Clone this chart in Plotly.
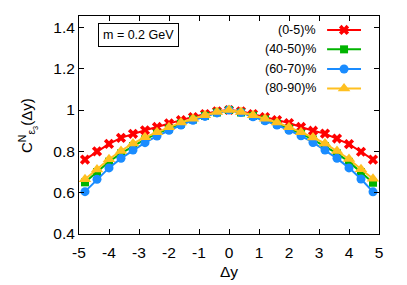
import plotly.graph_objects as go

dy = [-4.8, -4.4, -4.0, -3.6, -3.2, -2.8, -2.4, -2.0, -1.6, -1.2, -0.8, -0.4, 0.0,
      0.4, 0.8, 1.2, 1.6, 2.0, 2.4, 2.8, 3.2, 3.6, 4.0, 4.4, 4.8]

c_0_5 = [0.760, 0.800, 0.836, 0.865, 0.885, 0.902, 0.918, 0.936, 0.951, 0.966, 0.980, 0.994, 1.000,
         0.994, 0.980, 0.966, 0.951, 0.937, 0.918, 0.900, 0.886, 0.862, 0.835, 0.798, 0.760]
c_40_50 = [0.650, 0.700, 0.750, 0.790, 0.826, 0.858, 0.886, 0.910, 0.934, 0.954, 0.972, 0.988, 1.000,
           0.988, 0.972, 0.954, 0.934, 0.910, 0.886, 0.857, 0.825, 0.790, 0.749, 0.700, 0.648]
c_60_70 = [0.605, 0.665, 0.720, 0.766, 0.806, 0.842, 0.874, 0.902, 0.927, 0.950, 0.969, 0.986, 1.000,
           0.988, 0.967, 0.948, 0.927, 0.902, 0.875, 0.843, 0.806, 0.766, 0.720, 0.666, 0.604]
c_80_90 = [0.665, 0.712, 0.762, 0.802, 0.838, 0.868, 0.893, 0.917, 0.940, 0.958, 0.975, 0.990, 1.000,
           0.990, 0.975, 0.958, 0.940, 0.917, 0.893, 0.867, 0.838, 0.802, 0.763, 0.713, 0.667]

names = ["(0-5)%", "(40-50)%", "(60-70)%", "(80-90)%"]
series = [c_0_5, c_40_50, c_60_70, c_80_90]
colors = ["#ff0000", "#00b400", "#1a8cff", "#ffc020"]
symbols = ["x", "square", "circle", "triangle-up"]
sizes = [9, 8, 9, 11]

x_ticks = [-5, -4, -3, -2, -1, 0, 1, 2, 3, 4, 5]
y_ticks = [0.4, 0.6, 0.8, 1.0, 1.2, 1.4]
y_tick_text = ["0.4", "0.6", "0.8", "1", "1.2", "1.4"]

FONT = "Liberation Sans, Arial, sans-serif"

fig = go.Figure()
for nm, ys, col, sym, sz in zip(names, series, colors, symbols, sizes):
    fig.add_trace(go.Scatter(
        x=dy, y=ys, mode="lines+markers", name=nm,
        line=dict(color=col, width=2),
        marker=dict(symbol=sym, size=sz, color=col, line=dict(width=0)),
        showlegend=False,
    ))

# manual gnuplot-style legend (text left, sample right)
leg_rows = [0.936, 0.847, 0.757, 0.668]
leg_x0, leg_x1, leg_text_x = 0.827, 0.94, 0.797
for nm, col, sym, sz, ry in zip(names, colors, symbols, sizes, leg_rows):
    fig.add_shape(type="line", xref="paper", yref="paper",
                  x0=leg_x0, x1=leg_x1, y0=ry, y1=ry,
                  line=dict(color=col, width=2))
    fig.add_trace(go.Scatter(
        x=[(leg_x0 + leg_x1) / 2], y=[ry], xaxis="x2", yaxis="y2",
        mode="markers", marker=dict(symbol=sym, size=sz, color=col, line=dict(width=0)),
        showlegend=False, hoverinfo="skip"))
    fig.add_annotation(xref="paper", yref="paper", x=leg_text_x, y=ry,
                       text=nm, showarrow=False, xanchor="right", yanchor="middle",
                       font=dict(family=FONT, size=12.5, color="black"))

fig.add_annotation(xref="paper", yref="paper", x=0.063, y=0.968,
                   text="m = 0.2 GeV", showarrow=False, xanchor="left", yanchor="top",
                   font=dict(family=FONT, size=12.5, color="black"),
                   bordercolor="black", borderwidth=1, borderpad=4, bgcolor="white")

fig.add_annotation(xref="paper", yref="paper", x=-0.17, y=0.5,
                   text="C<sup>N</sup><sub>ε<sub>3</sub></sub>(Δy)", textangle=-90,
                   showarrow=False, xanchor="center", yanchor="middle",
                   font=dict(family=FONT, size=15, color="black"))

fig.add_annotation(xref="paper", yref="paper", x=0.5, y=-0.174,
                   text="Δy", showarrow=False, xanchor="center", yanchor="middle",
                   font=dict(family=FONT, size=15.5, color="black"))

axis_common = dict(showgrid=False, zeroline=False, showline=True, linecolor="black",
                   linewidth=1, mirror="allticks", ticks="inside", ticklen=5,
                   tickcolor="black", tickfont=dict(family=FONT, size=15.5, color="black"))

fig.update_layout(
    width=391, height=277,
    margin=dict(l=71, r=20, t=8, b=51, autoexpand=False),
    paper_bgcolor="white", plot_bgcolor="white",
    xaxis=dict(range=[-5, 5], tickvals=x_ticks, ticktext=[str(v) for v in x_ticks],
               ticklabelstandoff=4, automargin=False, **axis_common),
    yaxis=dict(range=[0.4, 1.455], tickvals=y_ticks, ticktext=y_tick_text,
               automargin=False, **axis_common),
    xaxis2=dict(overlaying="x", range=[0, 1], visible=False),
    yaxis2=dict(overlaying="y", range=[0, 1], visible=False),
    showlegend=False,
)

fig.write_html("out.html")
